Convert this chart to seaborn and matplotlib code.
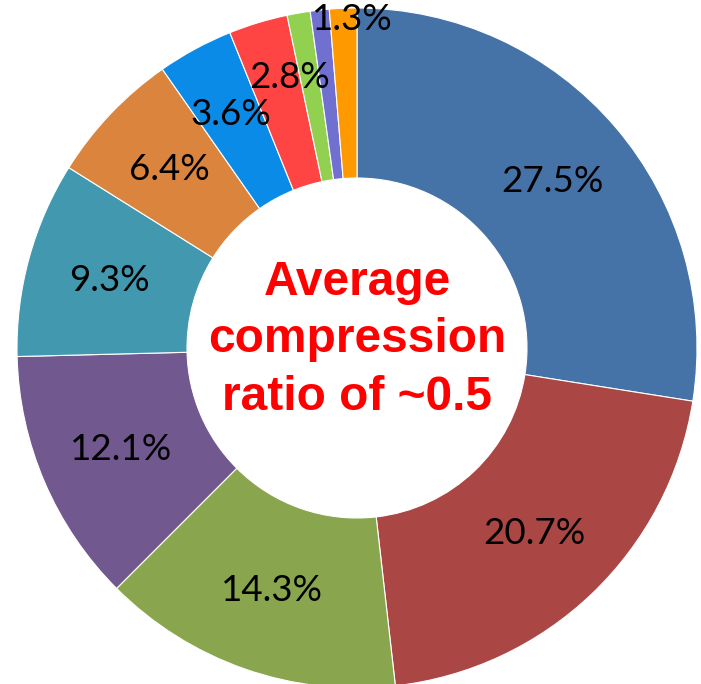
import numpy as np
import matplotlib
matplotlib.use("Agg")
import matplotlib.pyplot as plt
import seaborn as sns

# Share of each slice (percent), clockwise from 12 o'clock
shares = [27.5, 20.7, 14.3, 12.1, 9.3, 6.4, 3.6, 2.8, 1.1, 0.9, 1.3]
labels = ["27.5%", "20.7%", "14.3%", "12.1%", "9.3%", "6.4%", "3.6%", "2.8%", "", "", "1.3%"]
colors = ["#4572A7", "#AA4643", "#89A54E", "#71588F", "#4198AF", "#DB843D",
          "#0A8BE8", "#FF4444", "#92D050", "#7070D0", "#FF9900"]
# radial position of each label, as a fraction of the outer radius
label_radius = [0.755, 0.755, 0.755, 0.755, 0.755, 0.76, 0.78, 0.82, 0.8, 0.8, 0.965]
# small angular nudge of each label, in degrees (positive = counter-clockwise)
label_nudge = [0, 0, 0, 0, 0, 0, 0, -3, 0, 0, -1.5]
center_text = "Average\ncompression\nratio of ~0.5"

sns.set_theme(style="white")
plt.rcParams["font.family"] = ["Lato", "DejaVu Sans"]

W, H = 701, 684
fig = plt.figure(figsize=(W / 100, H / 100), dpi=100)
R = 340
cx, cy = 357, 348
ax = fig.add_axes([(cx - R) / W, (H - cy - R) / H, 2 * R / W, 2 * R / H])
ax.set_aspect("equal")
ax.axis("off")

wedges, _ = ax.pie(shares, colors=colors, startangle=90, counterclock=False,
                   radius=1.0, frame=False,
                   wedgeprops=dict(width=0.5, edgecolor="white", linewidth=0.8))
ax.set_xlim(-1, 1)
ax.set_ylim(-1, 1)

total = sum(shares)
cum = np.cumsum([0] + shares[:-1])
for lab, s, c0, r, nd in zip(labels, shares, cum, label_radius, label_nudge):
    if not lab:
        continue
    mid = (c0 + s / 2) / total * 2 * np.pi
    ang = np.pi / 2 - mid + np.deg2rad(nd)
    ax.text(r * np.cos(ang), r * np.sin(ang), lab, ha="center", va="center",
            fontsize=26.5, color="black")

ax.text(0, 0.024, center_text, ha="center", va="center", color="#FF0000",
        fontsize=34.5, fontweight="bold", family=["Liberation Sans", "DejaVu Sans"],
        linespacing=1.36)

fig.savefig("out.png", dpi=100)
